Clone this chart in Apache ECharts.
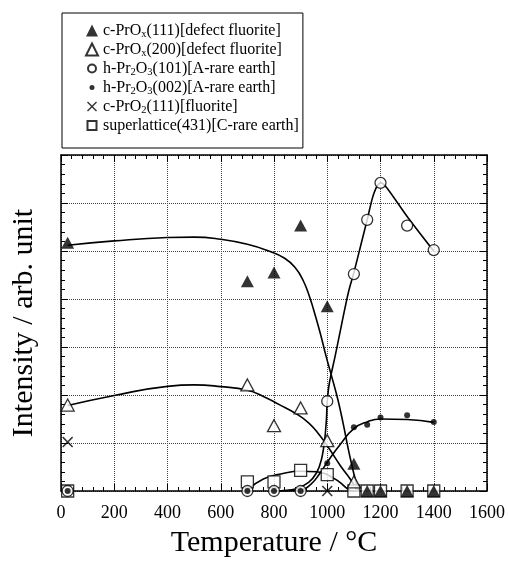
<!DOCTYPE html>
<html>
<head>
<meta charset="utf-8">
<script src="https://cdn.jsdelivr.net/npm/echarts@6/dist/echarts.min.js"></script>
<style>
  html, body { margin: 0; padding: 0; background: #fff; }
  #chart { width: 508px; height: 563px; }
</style>
</head>
<body>
<div id="chart"></div>
<script>
// measured temperatures (deg C) and intensities (arb. unit, 0-7 scale)
const temps = [25, 700, 800, 900, 1000, 1100, 1150, 1200, 1300, 1400];
const prox111 = [5.17, 4.37, 4.55, 5.53, 3.85, 0.57, 0, 0, 0, 0];
const prox200Temps = [25, 700, 800, 900, 1000, 1100];
const prox200 = [1.79, 2.21, 1.36, 1.73, 1.05, 0.19];
const pr2o3101 = [0, 0, 0, 0, 1.87, 4.52, 5.65, 6.42, 5.53, 5.02];
const pr2o3002 = [0, 0, 0, 0, 0.58, 1.33, 1.38, 1.53, 1.58, 1.44];
const pro2Temps = [25, 1000];
const pro2111 = [1.02, 0];
const superlattice = [0, 0.19, 0.19, 0.43, 0.34, 0, 0, 0, 0, 0];

// hand-drawn guide curves as [temp, intensity]
const curve111 = [[25, 5.12], [200, 5.21], [400, 5.28], [500, 5.29], [600, 5.245], [700, 5.14], [780, 5.0],
  [840, 4.85], [880, 4.65], [910, 4.38], [935, 4.02], [957, 3.62], [976, 3.24], [995, 2.82], [1015, 2.42],
  [1040, 1.9], [1060, 1.4], [1078, 0.9], [1092, 0.55], [1105, 0.25], [1118, 0.02]];
const curve200 = [[25, 1.78], [200, 1.99], [400, 2.18], [500, 2.21], [600, 2.175], [700, 2.1], [760, 1.97],
  [820, 1.8], [880, 1.62], [930, 1.42], [970, 1.17], [1010, 0.86], [1050, 0.52], [1090, 0.22], [1110, 0.03]];
const curve101 = [[800, 0], [880, 0.04], [930, 0.18], [960, 0.38], [978, 0.65], [990, 1.05], [997, 1.5],
  [1000, 1.87], [1008, 2.25], [1030, 2.82], [1055, 3.5], [1080, 4.15], [1100, 4.55], [1125, 5.1],
  [1150, 5.65], [1175, 6.2], [1200, 6.42], [1222, 6.33], [1300, 5.72], [1400, 5.0]];
const curve002 = [[800, 0], [900, 0.02], [940, 0.15], [970, 0.35], [1000, 0.6], [1050, 0.98], [1100, 1.3],
  [1150, 1.44], [1200, 1.5], [1300, 1.49], [1400, 1.43]];
const curveSuper = [[700, 0.02], [760, 0.25], [830, 0.36], [900, 0.41], [960, 0.4], [1000, 0.34],
  [1045, 0.19], [1080, 0.03], [1100, 0]];

const serif = 'Liberation Serif';
const crossPath = 'path://M0,1L1,0L5,4L9,0L10,1L6,5L10,9L9,10L5,6L1,10L0,9L4,5Z';

const labels = {
  p111: 'c-PrO{s|x}(111)[defect fluorite]',
  p200: 'c-PrO{s|x}(200)[defect fluorite]',
  h101: 'h-Pr{s|2}O{s|3}(101)[A-rare earth]',
  h002: 'h-Pr{s|2}O{s|3}(002)[A-rare earth]',
  o111: 'c-PrO{s|2}(111)[fluorite]',
  sl431: 'superlattice(431)[C-rare earth]'
};

const pairs = (xs, ys) => xs.map((x, i) => [x, ys[i]]);
const openStyle = { color: '#fff', borderColor: '#000', borderWidth: 1.3 };

const guide = (data, smooth) => ({
  type: 'line', data: data, smooth: smooth, symbol: 'none', silent: true,
  lineStyle: { color: '#000', width: 1.6 }, z: 1
});

// frame axis: ticks pointing into the plot, no labels
const tickAxis = (pos, extra) => Object.assign({
  type: 'value', position: pos,
  axisLine: { show: true, onZero: false, lineStyle: { color: '#000', width: 1.5 } },
  axisTick: { show: true, inside: true, length: 7, lineStyle: { color: '#000' } },
  minorTick: { show: true, splitNumber: 5, length: 4, lineStyle: { color: '#000' } },
  axisLabel: { show: false },
  splitLine: { show: false }
}, extra);

const grid = { show: true, lineStyle: { color: '#444', type: 'dotted', width: 1 } };

const chart = echarts.init(document.getElementById('chart'));
chart.setOption({
  animation: false,
  backgroundColor: '#fff',
  grid: { left: 61, right: 20, top: 155, bottom: 67 },
  legend: {
    data: [
      { name: 'p111', icon: 'triangle' },
      { name: 'p200', icon: 'triangle' },
      { name: 'h101', icon: 'path://M0,0L0,0M12,12L12,12M6,2A4,4 0 1 1 6,10A4,4 0 1 1 6,2Z' },
      { name: 'h002', icon: 'path://M0,0L0,0M12,12L12,12M6,3.5A2.5,2.5 0 1 1 6,8.5A2.5,2.5 0 1 1 6,3.5Z' },
      { name: 'o111', icon: 'path://M0,0L0,0M12,12L12,12M1,2L2,1L6,5L10,1L11,2L7,6L11,10L10,11L6,7L2,11L1,10L5,6Z' },
      { name: 'sl431', icon: 'path://M0,0L0,0M12,12L12,12M1.5,1.5L10.5,1.5L10.5,10.5L1.5,10.5Z' }
    ],
    orient: 'vertical',
    left: 62, top: 13,
    itemWidth: 12, itemHeight: 12, itemGap: 0, itemTextGap: 6,
    padding: [8, 4, 13, 23],
    borderColor: '#000', borderWidth: 1,
    selectedMode: false,
    formatter: (n) => labels[n],
    textStyle: {
      fontFamily: serif, fontSize: 16, color: '#000', lineHeight: 19,
      rich: { s: { fontFamily: serif, fontSize: 10.5, lineHeight: 12, verticalAlign: 'bottom', color: '#000' } }
    }
  },
  xAxis: [
    tickAxis('bottom', {
      min: 0, max: 1600, interval: 200,
      name: 'Temperature / °C', nameLocation: 'middle', nameGap: 37,
      nameTextStyle: { fontFamily: serif, fontSize: 30, color: '#000' },
      axisLabel: { show: true, fontFamily: serif, fontSize: 18, color: '#000', margin: 13, formatter: (v) => String(v) },
      splitLine: grid
    }),
    tickAxis('top', { min: 0, max: 1600, interval: 200 })
  ],
  yAxis: [
    tickAxis('left', {
      min: 0, max: 7, interval: 1,
      name: 'Intensity / arb. unit', nameLocation: 'middle', nameGap: 22,
      nameTextStyle: { fontFamily: serif, fontSize: 30, color: '#000' },
      splitLine: grid
    }),
    tickAxis('right', { min: 0, max: 7, interval: 1 })
  ],
  series: [
    guide(curve111, 0.5), guide(curve200, 0.5), guide(curve101, 0.3), guide(curve002, 0.5), guide(curveSuper, 0.5),
    {
      name: 'sl431', type: 'scatter', data: pairs(temps, superlattice),
      symbol: 'rect', symbolSize: 12, itemStyle: openStyle, z: 2
    },
    {
      name: 'h101', type: 'scatter', data: pairs(temps, pr2o3101),
      symbol: 'circle', symbolSize: 11, itemStyle: openStyle, z: 3
    },
    {
      name: 'h002', type: 'scatter', data: pairs(temps, pr2o3002),
      symbol: 'circle', symbolSize: 6, itemStyle: { color: '#000' }, z: 4
    },
    {
      name: 'o111', type: 'scatter', data: pairs(pro2Temps, pro2111),
      symbol: crossPath, symbolSize: 11, itemStyle: { color: '#000' }, z: 5
    },
    {
      name: 'p200', type: 'scatter', data: pairs(prox200Temps, prox200),
      symbol: 'triangle', symbolSize: [13, 12], itemStyle: openStyle, z: 6
    },
    {
      name: 'p111', type: 'scatter', data: pairs(temps, prox111),
      symbol: 'triangle', symbolSize: [13, 12], itemStyle: { color: '#000' }, z: 7
    }
  ]
});
</script>
</body>
</html>
